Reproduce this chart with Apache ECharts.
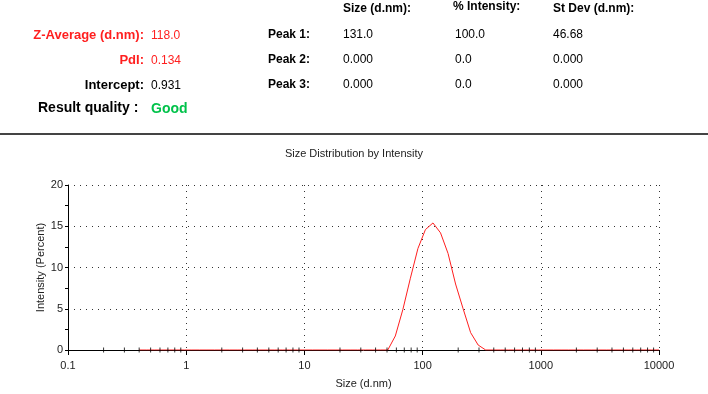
<!DOCTYPE html>
<html>
<head>
<meta charset="utf-8">
<script src="https://cdn.jsdelivr.net/npm/echarts@6/dist/echarts.min.js"></script>
<style>
html, body { margin: 0; padding: 0; background: #fff; }
#main { width: 708px; height: 394px; }
</style>
</head>
<body>
<div id="main"></div>
<script>
// size classes (d.nm)
var sizes = [0.4, 0.4632, 0.5365, 0.6213, 0.7195, 0.8332, 0.9649, 1.117, 1.294, 1.499,
    1.736, 2.01, 2.328, 2.696, 3.122, 3.615, 4.187, 4.849, 5.615, 6.503,
    7.531, 8.721, 10.1, 11.7, 13.54, 15.69, 18.17, 21.04, 24.36, 28.21,
    32.67, 37.84, 43.82, 50.75, 58.77, 68.06, 78.82, 91.28, 105.7, 122.4,
    141.8, 164.2, 190.1, 220.2, 255.0, 295.3, 342.0, 396.1, 458.7, 531.2,
    615.1, 712.4, 825.0, 955.4, 1106, 1281, 1484, 1718, 1990, 2305,
    2669, 3091, 3580, 4145, 4801, 5560, 6439, 7456, 8635, 10000];
// intensity (%)
var intensity = [0, 0, 0, 0, 0, 0, 0, 0, 0, 0,
    0, 0, 0, 0, 0, 0, 0, 0, 0, 0,
    0, 0, 0, 0, 0, 0, 0, 0, 0, 0,
    0, 0, 0, 0, 1.7, 4.9, 8.7, 12.3, 14.6, 15.4,
    14.2, 11.7, 8.0, 5.0, 2.1, 0.6, 0, 0, 0, 0,
    0, 0, 0, 0, 0, 0, 0, 0, 0, 0,
    0, 0, 0, 0, 0, 0, 0, 0, 0, 0];

// result table
var summaryLabels = ['Z-Average (d.nm):', 'PdI:', 'Intercept:'];
var summaryValues = ['118.0', '0.134', '0.931'];
var qualityLabel = 'Result quality :';
var qualityValue = 'Good';
var peakLabels = ['Peak 1:', 'Peak 2:', 'Peak 3:'];
var peakSize = ['131.0', '0.000', '0.000'];
var peakIntensity = ['100.0', '0.0', '0.0'];
var peakStDev = ['46.68', '0.000', '0.000'];
var peakHeaders = ['Size (d.nm):', '% Intensity:', 'St Dev (d.nm):'];

// minor ticks of the log axis
var decades = [0.1, 1, 10, 100, 1000];
var tickSteps = [2, 3, 4, 5, 6, 7, 8, 9];

var FONT = '"Liberation Sans", Arial, sans-serif';
var RED = '#ff1f1f';

var curve = [];
for (var i = 0; i < sizes.length; i++) {
    curve.push([sizes[i], intensity[i]]);
}
var minorTicks = [];
decades.forEach(function (d) {
    tickSteps.forEach(function (s) { minorTicks.push([d * s, 0]); });
});

// header texts
var graphics = [];
function txt(x, y, s, font, color, align) {
    graphics.push({
        type: 'text', x: x, y: y, silent: true,
        style: { text: s, font: font, fill: color, textAlign: align || 'left', textVerticalAlign: 'middle' }
    });
}
var rowY = [35, 60, 85];
var sumColors = [RED, RED, '#000'];
for (var r = 0; r < 3; r++) {
    txt(144, rowY[r], summaryLabels[r], 'bold 13px ' + FONT, sumColors[r], 'right');
    txt(151, rowY[r] + 1, summaryValues[r], '12px ' + FONT, sumColors[r]);
    txt(268, rowY[r], peakLabels[r], 'bold 12px ' + FONT, '#000');
    txt(343, rowY[r], peakSize[r], '12px ' + FONT, '#000');
    txt(455, rowY[r], peakIntensity[r], '12px ' + FONT, '#000');
    txt(553, rowY[r], peakStDev[r], '12px ' + FONT, '#000');
}
txt(343, 9, peakHeaders[0], 'bold 12px ' + FONT, '#000');
txt(453, 7, peakHeaders[1], 'bold 12px ' + FONT, '#000');
txt(553, 9, peakHeaders[2], 'bold 12px ' + FONT, '#000');
txt(38, 108, qualityLabel, 'bold 14px ' + FONT, '#000');
txt(151, 109, qualityValue, 'bold 14px ' + FONT, '#00c24a');
graphics.push({
    type: 'line', silent: true,
    shape: { x1: 0, y1: 134, x2: 708, y2: 134 },
    style: { stroke: '#444', lineWidth: 2 }
});

var myChart = echarts.init(document.getElementById('main'));
var gridLine = { show: true, lineStyle: { color: '#333', type: [1, 5], width: 1 } };

myChart.setOption({
    animation: false,
    backgroundColor: '#fff',
    title: {
        text: 'Size Distribution by Intensity',
        left: 349, top: 143, textAlign: 'center',
        textStyle: { fontFamily: FONT, fontSize: 11, fontWeight: 'normal', color: '#222' }
    },
    graphic: graphics,
    grid: { left: 68, right: 49, top: 185, bottom: 44 },
    xAxis: {
        type: 'log', logBase: 10, min: 0.1, max: 10000, interval: 1,
        name: 'Size (d.nm)', nameLocation: 'middle', nameGap: 28,
        nameTextStyle: { fontFamily: FONT, fontSize: 11, color: '#222' },
        axisLine: { lineStyle: { color: '#000', width: 1 } },
        axisTick: { length: 5, lineStyle: { color: '#000' } },
        axisLabel: {
            margin: 10, fontFamily: FONT, fontSize: 11, color: '#222',
            formatter: function (v) { return String(+(+v).toPrecision(6)); }
        },
        splitLine: gridLine
    },
    yAxis: {
        type: 'value', min: 0, max: 20, interval: 5,
        name: 'Intensity (Percent)', nameLocation: 'middle', nameGap: 22, nameRotate: 90,
        nameMoveOverlap: false,
        nameTextStyle: { fontFamily: FONT, fontSize: 11, color: '#222' },
        axisLine: { show: true, lineStyle: { color: '#000', width: 1 } },
        axisTick: { show: true, length: 3, lineStyle: { color: '#000' } },
        minorTick: { show: true, splitNumber: 2, length: 3, lineStyle: { color: '#000' } },
        axisLabel: { margin: 5, fontFamily: FONT, fontSize: 11, color: '#222' },
        splitLine: gridLine
    },
    series: [{
        type: 'line',
        data: curve,
        symbol: 'none',
        lineStyle: { color: RED, width: 1 },
        z: 3
    }, {
        type: 'scatter',
        data: minorTicks,
        symbol: 'rect',
        symbolSize: [1, 5],
        itemStyle: { color: '#000' },
        silent: true,
        z: 4
    }]
});
</script>
</body>
</html>
